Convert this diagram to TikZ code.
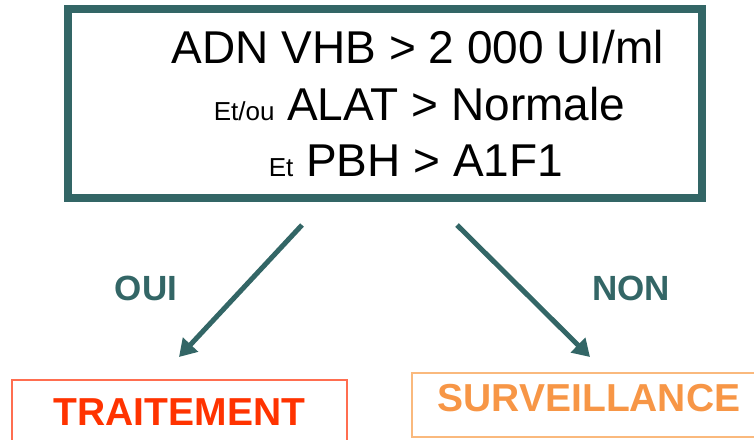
\documentclass[tikz,border=0pt]{standalone}
\usepackage{fontspec}
\setmainfont{Liberation Sans}
\usetikzlibrary{arrows.meta}
\definecolor{boxteal}{RGB}{51,102,102}
\definecolor{treatred}{RGB}{255,51,0}
\definecolor{treatedge}{RGB}{255,110,80}
\definecolor{survorange}{RGB}{247,150,70}
\definecolor{survedge}{RGB}{250,185,125}

\begin{document}
\begin{tikzpicture}[x=1pt,y=1pt]
\tikzstyle{every node}+=[inner sep=0pt]
\tikzstyle{condline}=[anchor=base,font=\fontsize{46}{50}\selectfont]
\tikzstyle{answer}=[text=boxteal,font=\bfseries\fontsize{35}{40}\selectfont]
\tikzstyle{branch}=[draw=boxteal,line width=5pt,-{Triangle[width=20pt,length=17pt]}]
\tikzstyle{outcome}=[line width=1.5pt,font=\bfseries\fontsize{39}{44}\selectfont,minimum height=64pt]
\useasboundingbox (0,0) rectangle (754,-439);
\node [draw=boxteal,line width=8pt,minimum width=634pt,minimum height=189pt] (cond) at (385,-103.5) {};
\node [condline] (adn) at (418,-63) {ADN VHB > 2 000 UI/ml};
\node [condline] (alat) at (419.5,-120) {{\fontsize{26}{28}\selectfont Et/ou} ALAT > Normale};
\node [condline] (pbh) at (416,-176) {{\fontsize{26}{28}\selectfont Et} PBH > A1F1};
\node [answer] (oui) at (146,-288) {OUI};
\node [answer] (non) at (631,-288) {NON};
\node [outcome,draw=treatedge,text=treatred,minimum width=335pt] (treat) at (179.5,-412) {TRAITEMENT};
\node [outcome,draw=survedge,text=survorange,minimum width=354pt,text depth=15pt] (surv) at (589,-405) {SURVEILLANCE};
\coordinate (ouistart) at (302,-225);
\coordinate (ouiend) at (179,-357);
\coordinate (nonstart) at (457,-225);
\coordinate (nonend) at (590,-357);
\draw [branch] (ouistart) -- (ouiend);
\draw [branch] (nonstart) -- (nonend);
\end{tikzpicture}
\end{document}
